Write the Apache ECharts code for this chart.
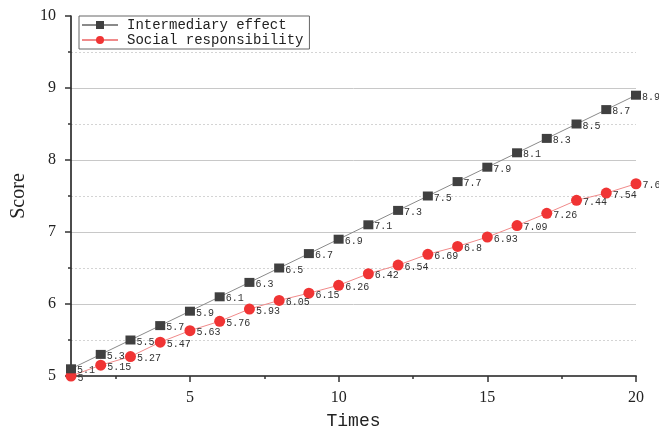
<!DOCTYPE html>
<html><head><meta charset="utf-8">
<script src="https://cdn.jsdelivr.net/npm/echarts@6/dist/echarts.min.js"></script>
<style>html,body{margin:0;padding:0;background:#fff}#c{width:659px;height:428px}</style>
</head><body><div id="c"></div>
<script>
const times = [1,2,3,4,5,6,7,8,9,10,11,12,13,14,15,16,17,18,19,20];
const intermediary = [5.1,5.3,5.5,5.7,5.9,6.1,6.3,6.5,6.7,6.9,7.1,7.3,7.5,7.7,7.9,8.1,8.3,8.5,8.7,8.9];
const social = [5,5.15,5.27,5.47,5.63,5.76,5.93,6.05,6.15,6.26,6.42,6.54,6.69,6.8,6.93,7.09,7.26,7.44,7.54,7.67];
const xMajorTicks = [5,10,15,20];
const xMinorTicks = [2.5,7.5,12.5,17.5];

const chart = echarts.init(document.getElementById('c'));
const labelStyle = {show:true, position:'right', distance:1, offset:[0,2], fontFamily:'Liberation Mono', fontSize:10, color:'#333',
  formatter: p => String(p.value[1])};
chart.setOption({
  animation:false,
  grid:{left:71, right:23, top:16, bottom:52, containLabel:false, outerBoundsMode:'none'},
  legend:{
    orient:'vertical', left:79, top:16, padding:[2,6,2,2], itemGap:1,
    itemWidth:36, itemHeight:10, borderColor:'#666', borderWidth:1,
    textStyle:{fontFamily:'Liberation Mono', fontSize:14, color:'#222', padding:[0,0,0,4]},
    data:['Intermediary effect','Social responsibility']
  },
  xAxis:[{
    type:'value', min:1, max:20,
    name:'Times', nameLocation:'middle', nameGap:36,
    nameTextStyle:{fontFamily:'Liberation Mono', fontSize:18, color:'#222'},
    axisLine:{show:true, lineStyle:{color:'#555', width:2}},
    axisTick:{show:true, customValues:xMajorTicks, length:6, lineStyle:{color:'#333', width:1.5}},
    axisLabel:{customValues:xMajorTicks, margin:14, fontFamily:'Liberation Serif', fontSize:16, color:'#222'},
    splitLine:{show:false}
  },{
    type:'value', min:1, max:20, position:'bottom',
    axisLine:{show:false},
    axisTick:{show:true, customValues:xMinorTicks, length:3, lineStyle:{color:'#333', width:1.5}},
    axisLabel:{show:false}, splitLine:{show:false}
  }],
  yAxis:{
    type:'value', min:5, max:10, interval:1,
    name:'Score', nameLocation:'middle', nameGap:35,
    nameTextStyle:{fontFamily:'Liberation Serif', fontSize:20, color:'#222'},
    axisLine:{show:true, lineStyle:{color:'#111', width:1.5}},
    axisTick:{show:true, length:6, lineStyle:{color:'#333', width:1.5}},
    minorTick:{show:true, splitNumber:2, length:3, lineStyle:{color:'#333', width:1.5}},
    axisLabel:{margin:15, fontFamily:'Liberation Serif', fontSize:16, color:'#222'},
    splitLine:{show:true, showMinLine:false, showMaxLine:false, lineStyle:{color:'#c8c8c8', width:1}},
    minorSplitLine:{show:true, lineStyle:{color:'#d4d4d4', width:1, type:[2,2]}}
  },
  series:[{
    name:'Intermediary effect', type:'line',
    data: times.map((t,i)=>[t, intermediary[i]]),
    symbol:'rect', symbolSize:[10,9],
    itemStyle:{color:'#404040'},
    lineStyle:{color:'#8a8a8a', width:1},
    label:labelStyle, z:3
  },{
    name:'Social responsibility', type:'line',
    data: times.map((t,i)=>[t, social[i]]),
    symbol:'circle', symbolSize:11,
    itemStyle:{color:'#f03434'},
    lineStyle:{color:'#f08a8a', width:1},
    label:labelStyle, z:2
  }]
});
</script></body></html>
